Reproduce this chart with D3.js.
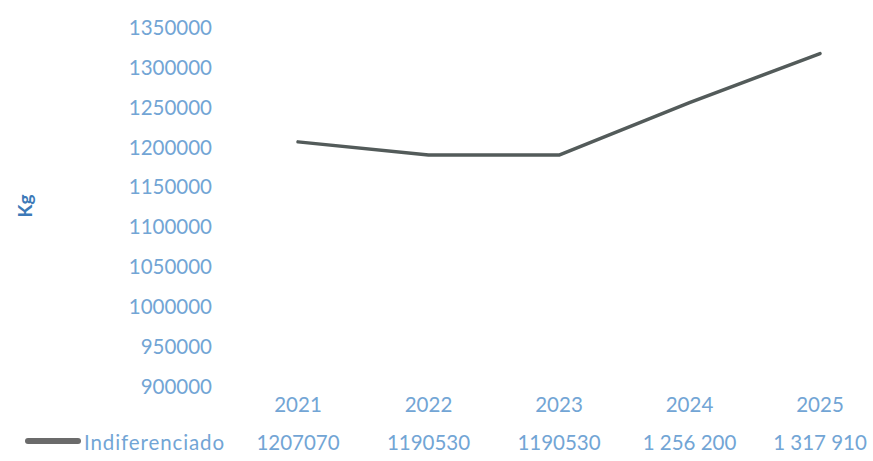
<!DOCTYPE html>
<html>
<head>
<meta charset="utf-8">
<script src="https://cdn.jsdelivr.net/npm/d3@7"></script>
<style>
  html, body { margin: 0; padding: 0; background: #ffffff; }
  svg { display: block; }
  text { font-family: Lato, "Open Sans", sans-serif; }
</style>
</head>
<body>
<div id="chart"></div>
<script>
// Yearly tonnage of undifferentiated waste (Kg)
const years = ["2021", "2022", "2023", "2024", "2025"];
const values = [1207070, 1190530, 1190530, 1256200, 1317910];
const valueLabels = ["1207070", "1190530", "1190530", "1 256 200", "1 317 910"];
const seriesName = "Indiferenciado";
const yTicks = [900000, 950000, 1000000, 1050000, 1100000, 1150000, 1200000, 1250000, 1300000, 1350000];
const yTitle = "Kg";

const width = 873, height = 461;
const labelBlue = "#72a5d5";
const lineGrey = "#535b5a";

const svg = d3.select("#chart").append("svg")
  .attr("width", width)
  .attr("height", height);

const x = d3.scalePoint().domain(years).range([298, 820]);
const y = d3.scaleLinear().domain([900000, 1350000]).range([386.5, 28]);

// Value axis: labels only, no domain line or ticks
const yAxis = svg.append("g")
  .attr("transform", "translate(220,0)")
  .call(d3.axisLeft(y).tickValues(yTicks).tickSize(0).tickPadding(8).tickFormat(d3.format("d")));
yAxis.select(".domain").remove();
yAxis.selectAll("text")
  .attr("fill", labelBlue)
  .style("font-size", "20.5px")
  .style("font-family", "Lato, 'Open Sans', sans-serif");

// Axis title
svg.append("text")
  .attr("transform", "translate(32,206) rotate(-90)")
  .attr("text-anchor", "middle")
  .attr("fill", "#3d7ab8")
  .style("font-size", "19px")
  .style("font-weight", "bold")
  .text(yTitle);

// Series line
const line = d3.line()
  .x((d, i) => x(years[i]))
  .y(d => y(d));

svg.append("path")
  .datum(values)
  .attr("d", line)
  .attr("fill", "none")
  .attr("stroke", lineGrey)
  .attr("stroke-width", 3.5)
  .attr("stroke-linejoin", "round")
  .attr("stroke-linecap", "round");

// Category labels under the plot
svg.append("g").selectAll("text")
  .data(years)
  .join("text")
  .attr("x", d => x(d))
  .attr("y", 412)
  .attr("text-anchor", "middle")
  .attr("fill", labelBlue)
  .style("font-size", "20.5px")
  .text(d => d);

// Data table row: legend key + values
svg.append("line")
  .attr("x1", 28).attr("x2", 78)
  .attr("y1", 441).attr("y2", 441)
  .attr("stroke", "#6b6b6b")
  .attr("stroke-width", 6)
  .attr("stroke-linecap", "round");

svg.append("text")
  .attr("x", 84)
  .attr("y", 450)
  .attr("fill", labelBlue)
  .style("font-size", "20.5px")
  .style("letter-spacing", "0.9px")
  .text(seriesName);

svg.append("g").selectAll("text")
  .data(valueLabels)
  .join("text")
  .attr("x", (d, i) => x(years[i]))
  .attr("y", 450)
  .attr("text-anchor", "middle")
  .attr("fill", labelBlue)
  .style("font-size", "20.5px")
  .text(d => d);
</script>
</body>
</html>
